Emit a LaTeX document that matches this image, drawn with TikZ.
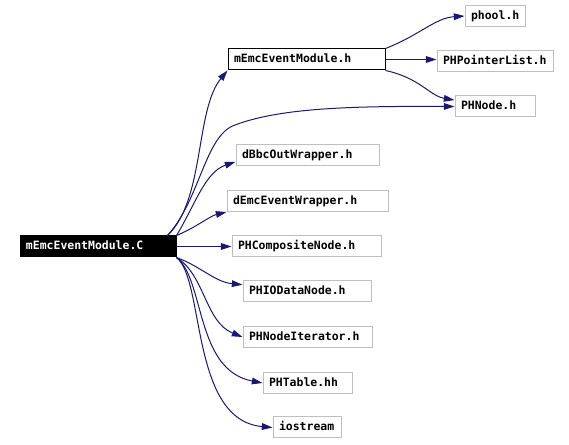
\documentclass[tikz,border=0pt]{standalone}
\usepackage{fontspec}
\setmonofont{DejaVu Sans Mono}
\usepackage{tikz}
\usetikzlibrary{arrows.meta,positioning}
\definecolor{edgeblue}{RGB}{25,25,112}
\definecolor{boxgray}{RGB}{191,191,191}

\begin{document}
\begin{tikzpicture}[
  x=0.75pt, y=-0.75pt,
  file/.style={rectangle, draw=boxgray, line width=0.75pt, inner xsep=4.5pt, inner ysep=0pt,
    minimum height=15.75pt, text height=6.4pt, text depth=1.6pt, align=left, text width=#1,
    font=\ttfamily\bfseries\fontsize{8.6}{10}\selectfont},
  rootfile/.style={file=#1, draw=black, fill=black, text=white},
  mainfile/.style={file=#1, draw=black},
  dep/.style={draw=edgeblue, line width=0.75pt, -{Triangle[length=8pt, width=5pt]}}
]
  \useasboundingbox (0,0) rectangle (569,445);

  \node[rootfile=108pt]   (root)  at (98, 246.5)  {mEmcEventModule.C};
  \node[mainfile=108.75pt] (mh)   at (306.5, 59.5) {mEmcEventModule.h};
  \node[file=36pt]        (phool) at (495, 16)    {phool.h};
  \node[file=78pt]        (phpl)  at (495, 61)    {PHPointerList.h};
  \node[file=51pt]        (phn)   at (495, 106.5) {PHNode.h};
  \node[file=98.25pt]     (dbbc)  at (307.5, 155.5) {dBbcOutWrapper.h};
  \node[file=111.75pt]    (demc)  at (307.5, 201) {dEmcEventWrapper.h};
  \node[file=102.75pt]    (phc)   at (306.5, 246.5) {PHCompositeNode.h};
  \node[file=87pt]        (phio)  at (307, 291.5) {PHIODataNode.h};
  \node[file=87.75pt]     (phni)  at (307.5, 337) {PHNodeIterator.h};
  \node[file=57.75pt]     (pht)   at (307.5, 383) {PHTable.hh};
  \node[file=42pt]        (ios)   at (307, 427.5) {iostream};

  \draw[dep] (root.9) .. controls (205,200) and (195,110) .. (mh.south west);
  \draw[dep] (root.9) .. controls (200,200) and (205,135) .. (235,125)
             .. controls (280,108) and (350,106) .. (phn.west);
  \draw[dep] (root.north east) .. controls (195,205) and (205,172) .. (dbbc.185);
  \draw[dep] (root.north east) .. controls (195,228) and (210,216) .. (demc.south west);
  \draw[dep] (root.east) -- (phc.west);
  \draw[dep] (root.south east) .. controls (200,266) and (215,282) .. (phio.174);
  \draw[dep] (root.south east) .. controls (205,275) and (205,322) .. (phni.west);
  \draw[dep] (root.south east) .. controls (205,280) and (195,370) .. (pht.west);
  \draw[dep] (root.south east) .. controls (205,280) and (190,420) .. (ios.west);

  \draw[dep] (mh.north east) .. controls (420,35) and (435,18) .. (phool.west);
  \draw[dep] (mh.east) -- (mh.east -| phpl.west);
  \draw[dep] (mh.south east) .. controls (420,78) and (430,96) .. (phn.171);
\end{tikzpicture}
\end{document}
